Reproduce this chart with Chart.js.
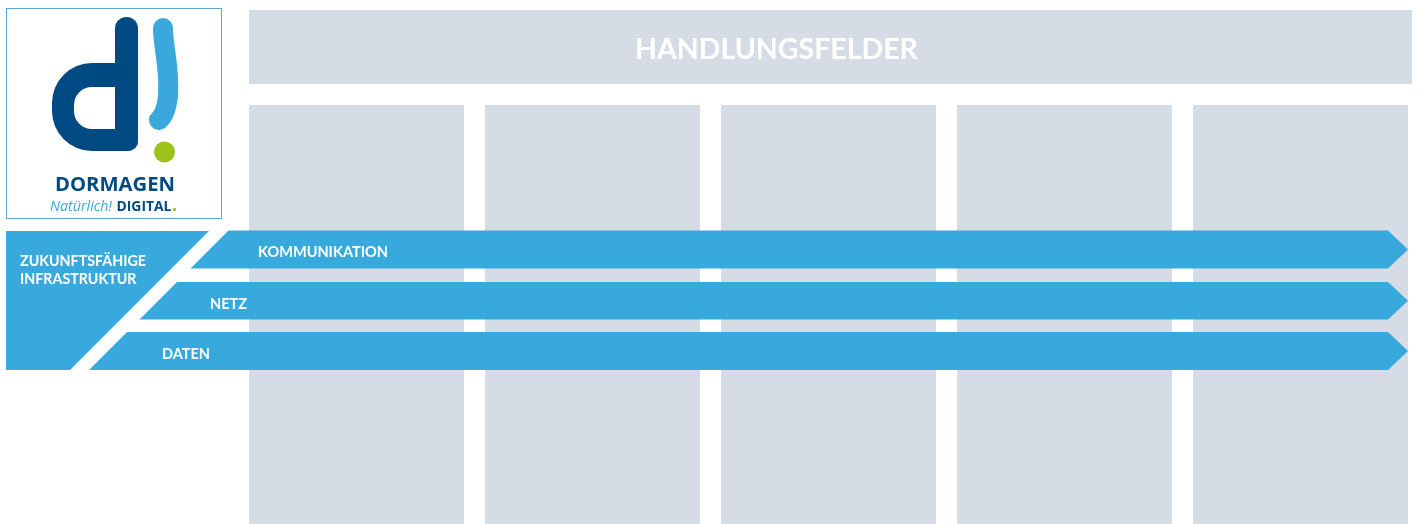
<!DOCTYPE html>
<html>
<head>
<meta charset="utf-8">
<script src="https://cdn.jsdelivr.net/npm/chart.js@4/dist/chart.umd.min.js"></script>
<style>
  html, body { margin: 0; padding: 0; background: #fff; }
  canvas { display: block; }
</style>
</head>
<body>
<canvas id="board" width="1419" height="524"></canvas>
<script>
// --------------------
// Data
// --------------------
const headerTitle = 'HANDLUNGSFELDER';
const fieldColumns = [1, 2, 3, 4, 5];
const arrowLabels = ['KOMMUNIKATION', 'NETZ', 'DATEN'];
const groupLines = ['ZUKUNFTSFÄHIGE', 'INFRASTRUKTUR'];

// --------------------
// Layout (pixel units on the 1419 x 524 axes)
// --------------------
const W = 1419, H = 524;
const GRAY = '#D6DCE5';
const BLUE = '#38A9DD';
const DARK = '#004A83';
const GREEN = '#9DC21B';

const header = { x0: 249, x1: 1412, y0: 10, y1: 84 };
const cols = { x0: 249, pitch: 236, width: 215, y0: 105, y1: H };
const arrowBands = [[230.5, 268.5], [282, 319.5], [332, 370]];
const arrowEdge = 459;      // left edges lie on x + y = 459
const groupEdge = 440;      // left block right edge on x + y = 440
const arrowBase = 1388, arrowTip = 1408;
const arrowText = [{ x: 258, y: 257 }, { x: 210, y: 308.5 }, { x: 162, y: 358.5 }];

function rect(x0, y0, x1, y1) {
    return [{ x: x0, y: y0 }, { x: x1, y: y0 }, { x: x1, y: y1 }, { x: x0, y: y1 }, { x: x0, y: y0 }];
}

function shape(points, color) {
    return {
        data: points,
        showLine: true,
        fill: 'shape',
        backgroundColor: color,
        borderColor: 'rgba(0,0,0,0)',
        borderWidth: 0,
        pointRadius: 0,
        tension: 0
    };
}

// back-to-front list; reversed below because Chart.js paints dataset 0 last
const layers = [];
layers.push(shape(rect(header.x0, header.y0, header.x1, header.y1), GRAY));
fieldColumns.forEach((c, i) => {
    const x0 = cols.x0 + i * cols.pitch;
    layers.push(shape(rect(x0, cols.y0, x0 + cols.width, cols.y1), GRAY));
});

// left block "Zukunftsfähige Infrastruktur"
const gTop = 231, gBot = 370;
layers.push(shape([
    { x: 6, y: gTop }, { x: groupEdge - gTop, y: gTop },
    { x: groupEdge - gBot, y: gBot }, { x: 6, y: gBot }, { x: 6, y: gTop }
], BLUE));

// arrows
arrowLabels.forEach((label, i) => {
    const [t, b] = arrowBands[i];
    const mid = (t + b) / 2;
    layers.push(shape([
        { x: arrowEdge - t, y: t }, { x: arrowBase, y: t }, { x: arrowTip, y: mid },
        { x: arrowBase, y: b }, { x: arrowEdge - b, y: b }, { x: arrowEdge - t, y: t }
    ], BLUE));
});
const datasets = layers.slice().reverse();

// --------------------
// Text + logo plugin
// --------------------
function fitFont(ctx, text, style, family, width) {
    ctx.font = `${style} 100px ${family}`;
    const size = 100 * width / ctx.measureText(text).width;
    return `${style} ${size.toFixed(2)}px ${family}`;
}

const overlay = {
    id: 'overlay',
    afterDatasetsDraw(chart) {
        const { ctx, scales: { x, y } } = chart;
        const px = v => x.getPixelForValue(v);
        const py = v => y.getPixelForValue(v);
        ctx.save();
        ctx.textBaseline = 'alphabetic';
        ctx.textAlign = 'left';

        // header title
        ctx.fillStyle = '#FFFFFF';
        ctx.font = fitFont(ctx, headerTitle, 'bold', 'Lato', 283);
        ctx.fillText(headerTitle, px(635), py(58.5));

        // arrow labels
        ctx.font = fitFont(ctx, arrowLabels[0], 'bold', 'Lato', 130);
        arrowLabels.forEach((label, i) => {
            ctx.fillText(label, px(arrowText[i].x), py(arrowText[i].y));
        });

        // group label
        ctx.font = fitFont(ctx, groupLines[0], 'bold', 'Lato', 126);
        ctx.fillText(groupLines[0], px(20), py(265.5));
        ctx.fillText(groupLines[1], px(20), py(283.5));

        // logo frame
        ctx.strokeStyle = '#5AA6DC';
        ctx.lineWidth = 1;
        ctx.strokeRect(px(6.5), py(8.5), 215, 210);

        // "d"
        ctx.fillStyle = DARK;
        ctx.beginPath();
        ctx.roundRect(px(52), py(63), 86, 88, [40, 0, 10, 40]);
        ctx.roundRect(px(74), py(87), 41, 42, [18, 0, 0, 18]);
        ctx.fill('evenodd');
        ctx.beginPath();
        ctx.roundRect(px(115), py(17), 23, 134, [11.5, 11.5, 10, 0]);
        ctx.fill();

        // "!" stroke
        ctx.strokeStyle = '#3AA8DC';
        ctx.lineWidth = 20;
        ctx.lineCap = 'round';
        ctx.beginPath();
        ctx.moveTo(px(163), py(28));
        ctx.bezierCurveTo(px(163), py(48), px(170), py(66), px(168), py(96));
        ctx.quadraticCurveTo(px(166), py(114), px(159), py(120));
        ctx.stroke();

        // green dot
        ctx.fillStyle = GREEN;
        ctx.beginPath();
        ctx.arc(px(164.5), py(152), 10.5, 0, Math.PI * 2);
        ctx.fill();

        // logo words
        ctx.fillStyle = DARK;
        ctx.font = fitFont(ctx, 'DORMAGEN', 'bold', '"Open Sans"', 120);
        ctx.fillText('DORMAGEN', px(55), py(190.5));
        ctx.fillStyle = '#3AA8DC';
        ctx.font = fitFont(ctx, 'Natürlich!', 'italic', '"Open Sans"', 62);
        ctx.fillText('Natürlich!', px(50), py(211));
        ctx.fillStyle = DARK;
        ctx.font = fitFont(ctx, 'DIGITAL', 'bold', '"Open Sans"', 55);
        ctx.fillText('DIGITAL', px(116.5), py(211));
        ctx.fillStyle = GREEN;
        ctx.beginPath();
        ctx.arc(px(174.5), py(209.5), 1.7, 0, Math.PI * 2);
        ctx.fill();

        ctx.restore();
    }
};

new Chart(document.getElementById('board'), {
    type: 'scatter',
    data: { datasets: datasets },
    options: {
        responsive: false,
        animation: false,
        devicePixelRatio: 1,
        events: [],
        layout: { padding: 0 },
        plugins: { legend: { display: false }, tooltip: { enabled: false } },
        scales: {
            x: { type: 'linear', min: 0, max: W, display: false },
            y: { type: 'linear', min: 0, max: H, reverse: true, display: false }
        }
    },
    plugins: [overlay]
});
</script>
</body>
</html>
